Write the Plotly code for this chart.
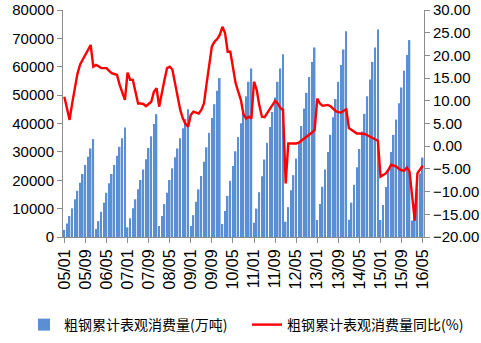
import plotly.graph_objects as go

# Month labels 2005/01 .. 2016/05
months = [f"{y % 100:02d}/{m:02d}" for y in range(2005, 2017) for m in range(1, 13)][:137]

# Cumulative apparent consumption of crude steel (10k tonnes)
consumption = [
    # 2005
    2500, 4800, 7400, 10100, 13300, 16300, 19100, 22200, 25400, 28300, 31200, 34500,
    # 2006
    2800, 5600, 8900, 12100, 15600, 18900, 22200, 25400, 28600, 31800, 34800, 38600,
    # 2007
    3400, 6600, 10100, 13300, 16800, 20100, 23800, 27400, 31400, 35500, 39800, 43300,
    # 2008
    3900, 7400, 11600, 15600, 20100, 24200, 28100, 31200, 34800, 38300, 41600, 45000,
    # 2009
    3900, 7700, 12400, 16800, 21500, 26500, 31600, 36700, 41900, 46800, 51500, 56000,
    # 2010
    4600, 9200, 14500, 19800, 25000, 30200, 35200, 40100, 44500, 49600, 54700, 59400,
    # 2011
    5000, 10000, 15800, 21400, 27300, 33200, 38800, 44100, 49200, 54700, 59400, 64400,
    # 2012
    5400, 10500, 16500, 21800, 27700, 33400, 39100, 45300, 50800, 56400, 61700, 66800,
    # 2013
    6000, 11600, 17700, 23800, 30000, 36000, 42200, 48600, 54700, 60600, 66100, 72500,
    # 2014
    6100, 12100, 18400, 24600, 31000, 37200, 43400, 49600, 55500, 61700, 66800, 73100,
    # 2015
    6000, 11300, 17600, 23800, 30000, 36000, 41400, 47100, 52700, 58600, 64100, 69400,
    # 2016
    5800, 11500, 17000, 22400, 28000,
]

# Year-on-year change of cumulative consumption (%)
yoy = [
    # 2005
    10.9, 8.0, 5.8, 9.5, 12.5, 16.0, 18.0, 19.0, 20.0, 21.0, 22.3, 17.5,
    # 2006
    17.9, 17.6, 17.2, 17.2, 17.2, 16.6, 16.1, 15.9, 15.7, 13.5, 12.0, 10.2,
    # 2007
    16.2, 14.6, 14.6, 12.0, 9.4, 9.4, 9.3, 8.8, 9.2, 9.8, 12.0, 12.8,
    # 2008
    8.7, 12.0, 14.6, 17.2, 17.5, 16.9, 14.0, 10.5, 8.0, 6.1, 4.9, 4.3,
    # 2009
    6.9, 7.6, 7.4, 7.2, 8.0, 9.4, 13.8, 18.3, 22.0, 23.0, 23.6, 24.5,
    # 2010
    26.3, 24.9, 20.8, 20.8, 16.8, 13.9, 12.0, 10.2, 7.0, 6.1, 6.5, 6.1,
    # 2011
    14.2, 12.4, 9.0, 6.5, 6.4, 7.3, 8.3, 9.3, 10.0, 9.4, 8.4, 8.0,
    # 2012
    -8.2, 0.6, 0.6, 0.6, 0.6, 0.8, 1.2, 1.6, 2.2, 2.5, 3.0, 3.6,
    # 2013
    10.5, 9.4, 8.9, 9.0, 9.1, 8.8, 8.3, 7.7, 7.5, 7.4, 7.8, 8.1,
    # 2014
    4.0, 3.6, 3.0, 2.8, 2.8, 2.7, 2.7, 2.4, 2.1, 1.7, 1.4, 1.2,
    # 2015
    -6.7, -6.3, -6.0, -5.2, -4.1, -4.3, -4.5, -5.0, -5.3, -5.4, -4.7, -5.6,
    # 2016
    -10.4, -16.4, -6.0, -5.2, -4.3,
]

tick_labels = months[::8]

bar_name = "粗钢累计表观消费量(万吨)"
line_name = "粗钢累计表观消费量同比(%)"

axis_font = dict(family="Liberation Sans, Arial, sans-serif", size=15, color="#000000")
xtick_font = dict(family="Liberation Sans, Arial, sans-serif", size=16, color="#000000")
cjk_font = dict(family="Noto Sans CJK SC, sans-serif", size=14, color="#000000")

fig = go.Figure()
fig.add_trace(go.Bar(
    x=months, y=consumption, name=bar_name,
    marker=dict(color="#5b8fd3", line=dict(width=0)),
    yaxis="y", legend="legend",
))
fig.add_trace(go.Scatter(
    x=months, y=yoy, name=line_name, mode="lines",
    line=dict(color="#ff0000", width=2.4),
    yaxis="y2", legend="legend2",
))

legend_common = dict(
    orientation="h", font=cjk_font, itemwidth=30,
    xref="container", yref="container", yanchor="middle",
    bgcolor="rgba(0,0,0,0)",
)

fig.update_layout(
    width=481, height=343,
    margin=dict(l=63, r=57, t=10, b=106, autoexpand=False),
    paper_bgcolor="white", plot_bgcolor="white",
    bargap=0.4,
    showlegend=True,
    legend=dict(x=24 / 481, y=18 / 343, xanchor="left", **legend_common),
    legend2=dict(x=247 / 481, y=18 / 343, xanchor="left", **legend_common),
    xaxis=dict(
        type="category", range=[-0.5, 136.5],
        tickmode="array", tickvals=tick_labels, ticktext=tick_labels,
        tickangle=-90, tickfont=xtick_font, automargin=False,
        showline=True, linecolor="#8c8c8c", linewidth=1,
        ticks="outside", ticklen=5, tickcolor="#8c8c8c",
        showgrid=False, zeroline=False,
    ),
    yaxis=dict(
        range=[0, 80000], dtick=10000, tickformat="d",
        tickfont=axis_font, automargin=False,
        showline=True, linecolor="#8c8c8c", linewidth=1,
        ticks="outside", ticklen=5, tickcolor="#8c8c8c",
        showgrid=False, zeroline=False,
    ),
    yaxis2=dict(
        overlaying="y", side="right",
        range=[-20, 30], dtick=5, tickformat=".2f",
        tickfont=axis_font, automargin=False,
        showline=True, linecolor="#8c8c8c", linewidth=1,
        ticks="outside", ticklen=5, tickcolor="#8c8c8c",
        showgrid=False, zeroline=False,
    ),
)

fig.write_html("out.html")
